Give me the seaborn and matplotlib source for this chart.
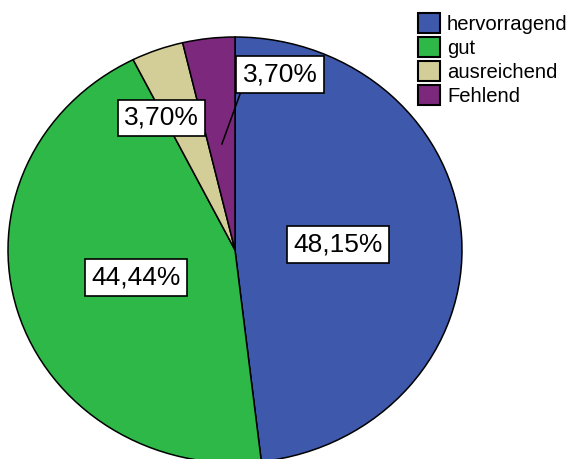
import numpy as np
import seaborn as sns
import matplotlib
matplotlib.use("Agg")
import matplotlib.pyplot as plt

# Daten (Anzahl je Kategorie, n = 27)
kategorien = ["hervorragend", "gut", "ausreichend", "Fehlend"]
anzahl = [13, 12, 1, 1]
prozent_labels = ["48,15%", "44,44%", "3,70%", "3,70%"]
farben = ["#3E58AC", "#2EB848", "#D3CE97", "#7C287D"]

sns.set_theme(style="white")
plt.rcParams["font.family"] = ["Liberation Sans", "DejaVu Sans"]
plt.rcParams["text.color"] = "black"

fig = plt.figure(figsize=(5.71, 4.59), dpi=100)
# Achse so legen, dass der Kreis leicht elliptisch wie im Original erscheint
ax = fig.add_axes([8 / 571, -4 / 459, 454 / 571, 426 / 459])

wedges, _ = ax.pie(
    anzahl,
    colors=farben,
    startangle=90,
    counterclock=False,
    radius=1,
    wedgeprops=dict(edgecolor="black", linewidth=1.1),
)
ax.set_xlim(-1, 1)
ax.set_ylim(-1, 1)
ax.set_aspect("auto")
ax.axis("off")

box = dict(boxstyle="square,pad=0.24", fc="white", ec="black", lw=1.2)
fs = 19

# Beschriftungen: große Segmente mittig, kleine Segmente versetzt
for i, (w, txt) in enumerate(zip(wedges, prozent_labels)):
    mitte = np.deg2rad((w.theta1 + w.theta2) / 2)
    if i < 2:
        r = 0.455
        ax.text(r * np.cos(mitte), r * np.sin(mitte), txt, ha="center",
                va="center", fontsize=fs, bbox=box, zorder=5)
    elif i == 2:
        r = 0.5
        ax.annotate(txt, xy=(r * np.cos(mitte), r * np.sin(mitte)),
                    xytext=(-25, 23), textcoords="offset points",
                    ha="center", va="center", fontsize=fs, bbox=box, zorder=5)
    else:
        r = 0.5
        ax.annotate(txt, xy=(r * np.cos(mitte), r * np.sin(mitte)),
                    xytext=(42, 50), textcoords="offset points",
                    ha="center", va="center", fontsize=fs, bbox=box, zorder=5,
                    arrowprops=dict(arrowstyle="-", color="black", lw=1.1,
                                    relpos=(0, 0), shrinkA=0, shrinkB=0))

leg = fig.legend(
    wedges, kategorien,
    loc="upper left",
    bbox_to_anchor=(418 / 571, 1 - 13 / 459),
    frameon=False,
    fontsize=14.6,
    handlelength=1.08,
    handleheight=1.14,
    handletextpad=0.35,
    labelspacing=0.16,
    borderpad=0,
    borderaxespad=0,
)
for h in leg.legend_handles:
    h.set_linewidth(1.5)

fig.savefig("out.png", dpi=100)
